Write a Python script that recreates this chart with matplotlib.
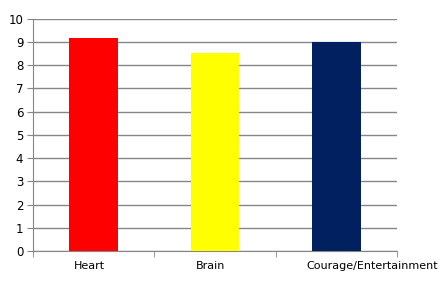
import matplotlib.pyplot as plt
import matplotlib.transforms as mtransforms
from matplotlib.ticker import FixedLocator

categorias = ["Heart", "Brain", "Courage/Entertainment"]
valores = [9.15, 8.52, 8.98]
colores = ["#ff0000", "#ffff00", "#002060"]

COLOR_GRID = "#868686"
COLOR_TEXT = "#000000"

fig = plt.figure(figsize=(4.44, 2.91), dpi=100)
ax = fig.add_axes([0.0743, 0.1375, 0.8198, 0.7982])

x = range(len(categorias))
ax.bar(x, valores, width=0.4, color=colores, zorder=3)

ax.set_xlim(-0.5, len(categorias) - 0.5)
ax.set_ylim(0, 10)
ax.set_yticks(range(0, 11))
ax.yaxis.grid(True, color=COLOR_GRID, linewidth=1)
ax.set_axisbelow(True)

ax.set_xticks(list(x))
ax.set_xticklabels(categorias)
ax.xaxis.set_minor_locator(FixedLocator([-0.5, 0.5, 1.5, 2.5]))
ax.tick_params(axis="x", which="major", length=0, pad=7, labelsize=8, colors=COLOR_TEXT)
ax.tick_params(axis="x", which="minor", length=4, color=COLOR_GRID, direction="out")
ax.tick_params(axis="y", length=4, color=COLOR_GRID, labelsize=8.5, pad=3, labelcolor=COLOR_TEXT)

# la etiqueta larga queda corrida a la derecha, como en el original
etiquetas = ax.get_xticklabels()
desplazar = [-4 / 72, -4 / 72, 36 / 72]
for etiqueta, dx in zip(etiquetas, desplazar):
    etiqueta.set_transform(etiqueta.get_transform() + mtransforms.ScaledTranslation(dx * 0.72, 0, fig.dpi_scale_trans))

for lado in ["top", "right"]:
    ax.spines[lado].set_visible(False)
for lado in ["left", "bottom"]:
    ax.spines[lado].set_color(COLOR_GRID)

fig.savefig("out.png", dpi=100)
